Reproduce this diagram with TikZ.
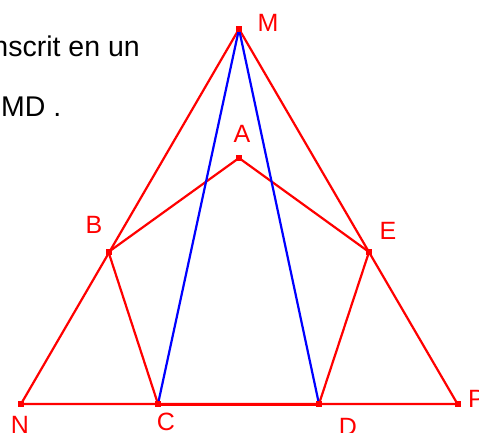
\documentclass[tikz,border=0pt]{standalone}
\usepackage{fontspec}
\setmainfont{Liberation Sans}
\begin{document}
\begin{tikzpicture}[x=1pt,y=1pt,
  redline/.style={draw=red,line width=2.2pt},
  blueline/.style={draw=blue,line width=2.2pt},
  pt/.style={fill=red,minimum size=6pt,inner sep=0pt,outer sep=0pt,draw=none,rectangle},
  lbl/.style={text=red,font=\fontsize{25}{25}\selectfont,inner sep=0pt,anchor=base},
  txt/.style={text=black,font=\fontsize{28.5}{28.5}\selectfont,inner sep=0pt,anchor=base east}]
\useasboundingbox (0,0) rectangle (479,432);
\clip (0,0) rectangle (479,432);
% points
\coordinate (M) at (239,403);
\coordinate (A) at (239,274);
\coordinate (B) at (108.5,180);
\coordinate (E) at (369,180);
\coordinate (N) at (21,28);
\coordinate (C) at (158,28);
\coordinate (D) at (319,28);
\coordinate (P) at (457.5,28);
% text
\node[txt] (t1) at (140,375) {nscrit en un};
\node[txt] (t2) at (61.5,316) {CMD .};
% lines
\draw[redline] (M) -- (N) -- (P) -- cycle;
\draw[redline] (B) -- (A) -- (E);
\draw[redline] (B) -- (C);
\draw[redline] (E) -- (D);
\draw[draw=red,line width=3pt] (C) -- (D);
\draw[blueline] (M) -- (C);
\draw[blueline] (M) -- (D);
% markers
\foreach \p in {M,A,B,E,N,C,D,P} \node[pt] (m\p) at (\p) {};
% labels
\node[lbl] (lM) at (268,400) {M};
\node[lbl] (lA) at (242,290) {A};
\node[lbl] (lB) at (94,199) {B};
\node[lbl] (lE) at (388,193) {E};
\node[lbl] (lN) at (20,-1) {N};
\node[lbl] (lC) at (166,2) {C};
\node[lbl] (lD) at (348,-3) {D};
\node[lbl,anchor=base west] (lP) at (468,25) {P};
\end{tikzpicture}
\end{document}
